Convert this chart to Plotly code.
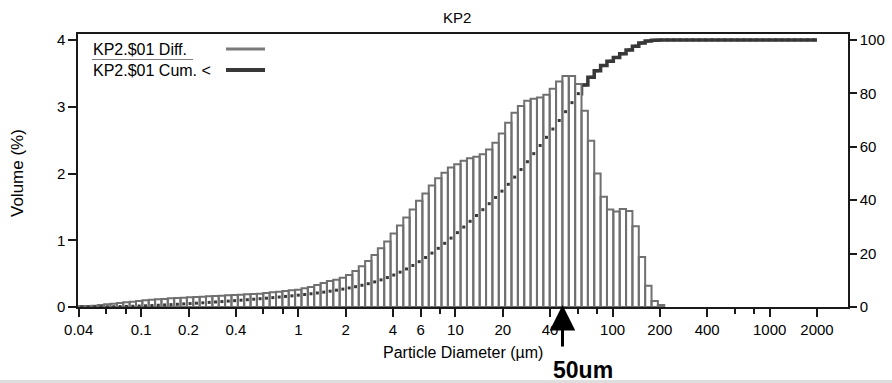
import math
import numpy as np
import plotly.graph_objects as go

# ---------------- data ----------------
# Instrument size channels: 116 log-spaced channels from 0.04 to 2000 um
N_CHANNELS = 116
D_MIN, D_MAX = 0.04, 2000.0
edges = D_MIN * (D_MAX / D_MIN) ** (np.arange(N_CHANNELS + 1) / N_CHANNELS)

# Differential volume (%) per channel (channels 0..91, rest are zero)
diff_pct = [
    0.01, 0.015, 0.02, 0.03, 0.04, 0.05, 0.06, 0.07, 0.08, 0.09,
    0.10, 0.11, 0.115, 0.12, 0.13, 0.135, 0.14, 0.145, 0.15, 0.155,
    0.16, 0.165, 0.17, 0.175, 0.18, 0.185, 0.19, 0.195, 0.20, 0.21,
    0.22, 0.23, 0.24, 0.25, 0.26, 0.28, 0.30, 0.33, 0.36, 0.39,
    0.41, 0.44, 0.48, 0.54, 0.61, 0.69, 0.78, 0.88, 0.98, 1.10,
    1.22, 1.34, 1.46, 1.59, 1.70, 1.82, 1.93, 2.01, 2.09, 2.14,
    2.19, 2.23, 2.25, 2.29, 2.36, 2.46, 2.60, 2.76, 2.91, 3.01,
    3.09, 3.12, 3.14, 3.18, 3.27, 3.38, 3.46, 3.46, 3.34, 2.94,
    2.49, 2.00, 1.65, 1.46, 1.43, 1.47, 1.44, 1.21, 0.75, 0.32,
    0.09, 0.03,
]

# Cumulative volume < (%) at each channel edge (edges 0..116)
cum_pct = [
    0.0, 0.01, 0.02, 0.04, 0.07, 0.11, 0.16, 0.22, 0.29, 0.37,
    0.45, 0.55, 0.66, 0.77, 0.89, 1.02, 1.15, 1.28, 1.43, 1.57,
    1.72, 1.88, 2.04, 2.21, 2.38, 2.55, 2.73, 2.92, 3.11, 3.30,
    3.51, 3.72, 3.95, 4.18, 4.43, 4.68, 4.95, 5.25, 5.57, 5.92,
    6.30, 6.70, 7.13, 7.60, 8.13, 8.72, 9.40, 10.16, 11.02, 11.97,
    13.05, 14.24, 15.55, 16.97, 18.52, 20.18, 21.96, 23.84, 25.80, 27.84,
    29.93, 32.07, 34.25, 36.44, 38.68, 40.98, 43.38, 45.92, 48.62, 51.46,
    54.39, 57.41, 60.46, 63.52, 66.63, 69.82, 73.12, 76.50, 79.87, 83.13,
    86.00, 88.43, 90.39, 92.00, 93.42, 94.82, 96.25, 97.66, 98.84, 99.57,
    99.88, 99.97, 100.0, 100.0, 100.0, 100.0, 100.0, 100.0, 100.0, 100.0,
    100.0, 100.0, 100.0, 100.0, 100.0, 100.0, 100.0, 100.0, 100.0, 100.0,
    100.0, 100.0, 100.0, 100.0, 100.0, 100.0, 100.0,
]

x_tick_vals = [0.04, 0.1, 0.2, 0.4, 1, 2, 4, 6, 10, 20, 40, 100, 200, 400, 1000, 2000]
x_tick_text = ["0.04", "0.1", "0.2", "0.4", "1", "2", "4", "6", "10", "20", "40",
               "100", "200", "400", "1000", "2000"]
x_minor_vals = [0.06, 0.08, 0.6, 0.8, 8, 60, 80, 600, 800]
left_ticks = [0, 1, 2, 3, 4]
right_ticks = [0, 20, 40, 60, 80, 100]

ARROW_AT = 48  # um
TITLE = "KP2"
SERIES_DIFF = "KP2.$01 Diff."
SERIES_CUM = "KP2.$01 Cum. <"

# ---------------- styling ----------------
FONT = "Liberation Sans, Arial, sans-serif"
BAR_COLOR = "#707070"
CUM_COLOR = "#383838"
AX_COLOR = "#1a1a1a"

# bars as outlined rectangles (one polygon per channel)
bx, by = [], []
for k, v in enumerate(diff_pct):
    if v <= 0:
        continue
    lo, hi = edges[k], edges[k + 1]
    bx += [lo, lo, hi, hi, lo, None]
    by += [0, v, v, 0, 0, None]

centers = [math.sqrt(edges[k] * edges[k + 1]) for k in range(N_CHANNELS)]

fig = go.Figure()
# cumulative step line (underneath bars)
fig.add_trace(go.Scatter(
    x=list(edges), y=cum_pct, mode="lines", line=dict(color=CUM_COLOR, width=3.5, shape="hv"),
    xaxis="x", yaxis="y", showlegend=False, hoverinfo="skip"))
# differential bars
fig.add_trace(go.Scatter(
    x=bx, y=by, mode="lines", fill="toself", fillcolor="white",
    line=dict(color=BAR_COLOR, width=2), xaxis="x", yaxis="y2",
    showlegend=False, hoverinfo="skip"))
# cumulative markers (visible through bars)
fig.add_trace(go.Scatter(
    x=centers, y=cum_pct[:N_CHANNELS], mode="markers",
    marker=dict(symbol="square", size=3, color=CUM_COLOR, line=dict(width=0)),
    xaxis="x", yaxis="y3", showlegend=False, hoverinfo="skip"))

x_lo = math.log10(0.04) - 0.7 / 157.1
x_hi = math.log10(2000) + 31 / 157.1
cum_range = [0, 102.2]

tickfont = dict(family=FONT, size=15, color="black")
fig.update_layout(
    width=892, height=383,
    margin=dict(l=78, r=44, t=34, b=76, pad=0, autoexpand=False),
    paper_bgcolor="white", plot_bgcolor="white",
    showlegend=False,
    xaxis=dict(type="log", range=[x_lo, x_hi], showgrid=False, zeroline=False, automargin=False,
               showline=True, linecolor=AX_COLOR, linewidth=1.5, mirror=True,
               ticks="outside", ticklen=8, tickwidth=1.5, tickcolor=AX_COLOR,
               tickmode="array", tickvals=x_tick_vals, ticktext=x_tick_text,
               tickfont=tickfont,
               minor=dict(tickmode="array", tickvals=x_minor_vals, ticks="outside",
                          ticklen=5, tickwidth=1.5, tickcolor=AX_COLOR, showgrid=False)),
    yaxis=dict(range=cum_range, side="right", showgrid=False, zeroline=False, automargin=False,
               showline=True, linecolor=AX_COLOR, linewidth=1.5,
               ticks="outside", ticklen=7, tickwidth=1.5, tickcolor=AX_COLOR,
               tickmode="array", tickvals=right_ticks, tickfont=tickfont),
    yaxis2=dict(range=[0, 4.09], overlaying="y", side="left", anchor="x", automargin=False,
                showgrid=False, zeroline=False,
                showline=True, linecolor=AX_COLOR, linewidth=1.5,
                ticks="outside", ticklen=8, tickwidth=1.5, tickcolor=AX_COLOR,
                tickmode="array", tickvals=left_ticks, tickfont=tickfont),
    yaxis3=dict(range=cum_range, overlaying="y", visible=False, automargin=False),
)

PLOT_L, PLOT_R, PLOT_T, PLOT_B = 78, 848, 34, 307
def px(xp):
    return (xp - PLOT_L) / (PLOT_R - PLOT_L)
def py(yp):
    return (PLOT_B - yp) / (PLOT_B - PLOT_T)

ann = []
ann.append(dict(text=TITLE, x=px(457), y=py(17), xref="paper", yref="paper",
                showarrow=False, font=dict(family=FONT, size=15, color="black"),
                xanchor="center", yanchor="middle"))
ann.append(dict(text="Particle Diameter (µm)", x=px(463), y=py(352), xref="paper", yref="paper",
                showarrow=False, font=dict(family=FONT, size=16, color="black"),
                xanchor="center", yanchor="middle"))
ann.append(dict(text="Volume (%)", x=px(17), y=py(173), xref="paper", yref="paper",
                showarrow=False, textangle=-90, font=dict(family=FONT, size=17, color="black"),
                xanchor="center", yanchor="middle"))
ann.append(dict(text=SERIES_DIFF, x=px(91), y=py(49), xref="paper", yref="paper",
                showarrow=False, font=dict(family=FONT, size=16, color="black"),
                xanchor="left", yanchor="middle"))
ann.append(dict(text=SERIES_CUM, x=px(91), y=py(70), xref="paper", yref="paper",
                showarrow=False, font=dict(family=FONT, size=16, color="black"),
                xanchor="left", yanchor="middle"))
# arrow marking 50 um
ann.append(dict(text="", x=math.log10(ARROW_AT), y=py(305), xref="x", yref="paper",
                showarrow=True, ax=0, ay=43, arrowhead=2, arrowsize=1.7, arrowwidth=3,
                arrowcolor="black", standoff=0))
ann.append(dict(text="<b>50um</b>", x=px(583), y=py(370), xref="paper", yref="paper",
                showarrow=False, font=dict(family=FONT, size=23, color="black"),
                xanchor="center", yanchor="middle"))

shapes = [
    dict(type="line", xref="paper", yref="paper", x0=px(92), x1=px(193), y0=py(59.5), y1=py(59.5),
         line=dict(color="#808080", width=1)),
    dict(type="line", xref="paper", yref="paper", x0=px(226), x1=px(265), y0=py(49), y1=py(49),
         line=dict(color="#7a7a7a", width=3)),
    dict(type="line", xref="paper", yref="paper", x0=px(226), x1=px(265), y0=py(70), y1=py(70),
         line=dict(color=CUM_COLOR, width=4)),
    dict(type="rect", xref="paper", yref="paper", x0=px(-5), x1=px(900), y0=py(380), y1=py(390),
         line=dict(width=0), fillcolor="#dedede"),
]
fig.update_layout(annotations=ann, shapes=shapes)

fig.write_html("out.html")
